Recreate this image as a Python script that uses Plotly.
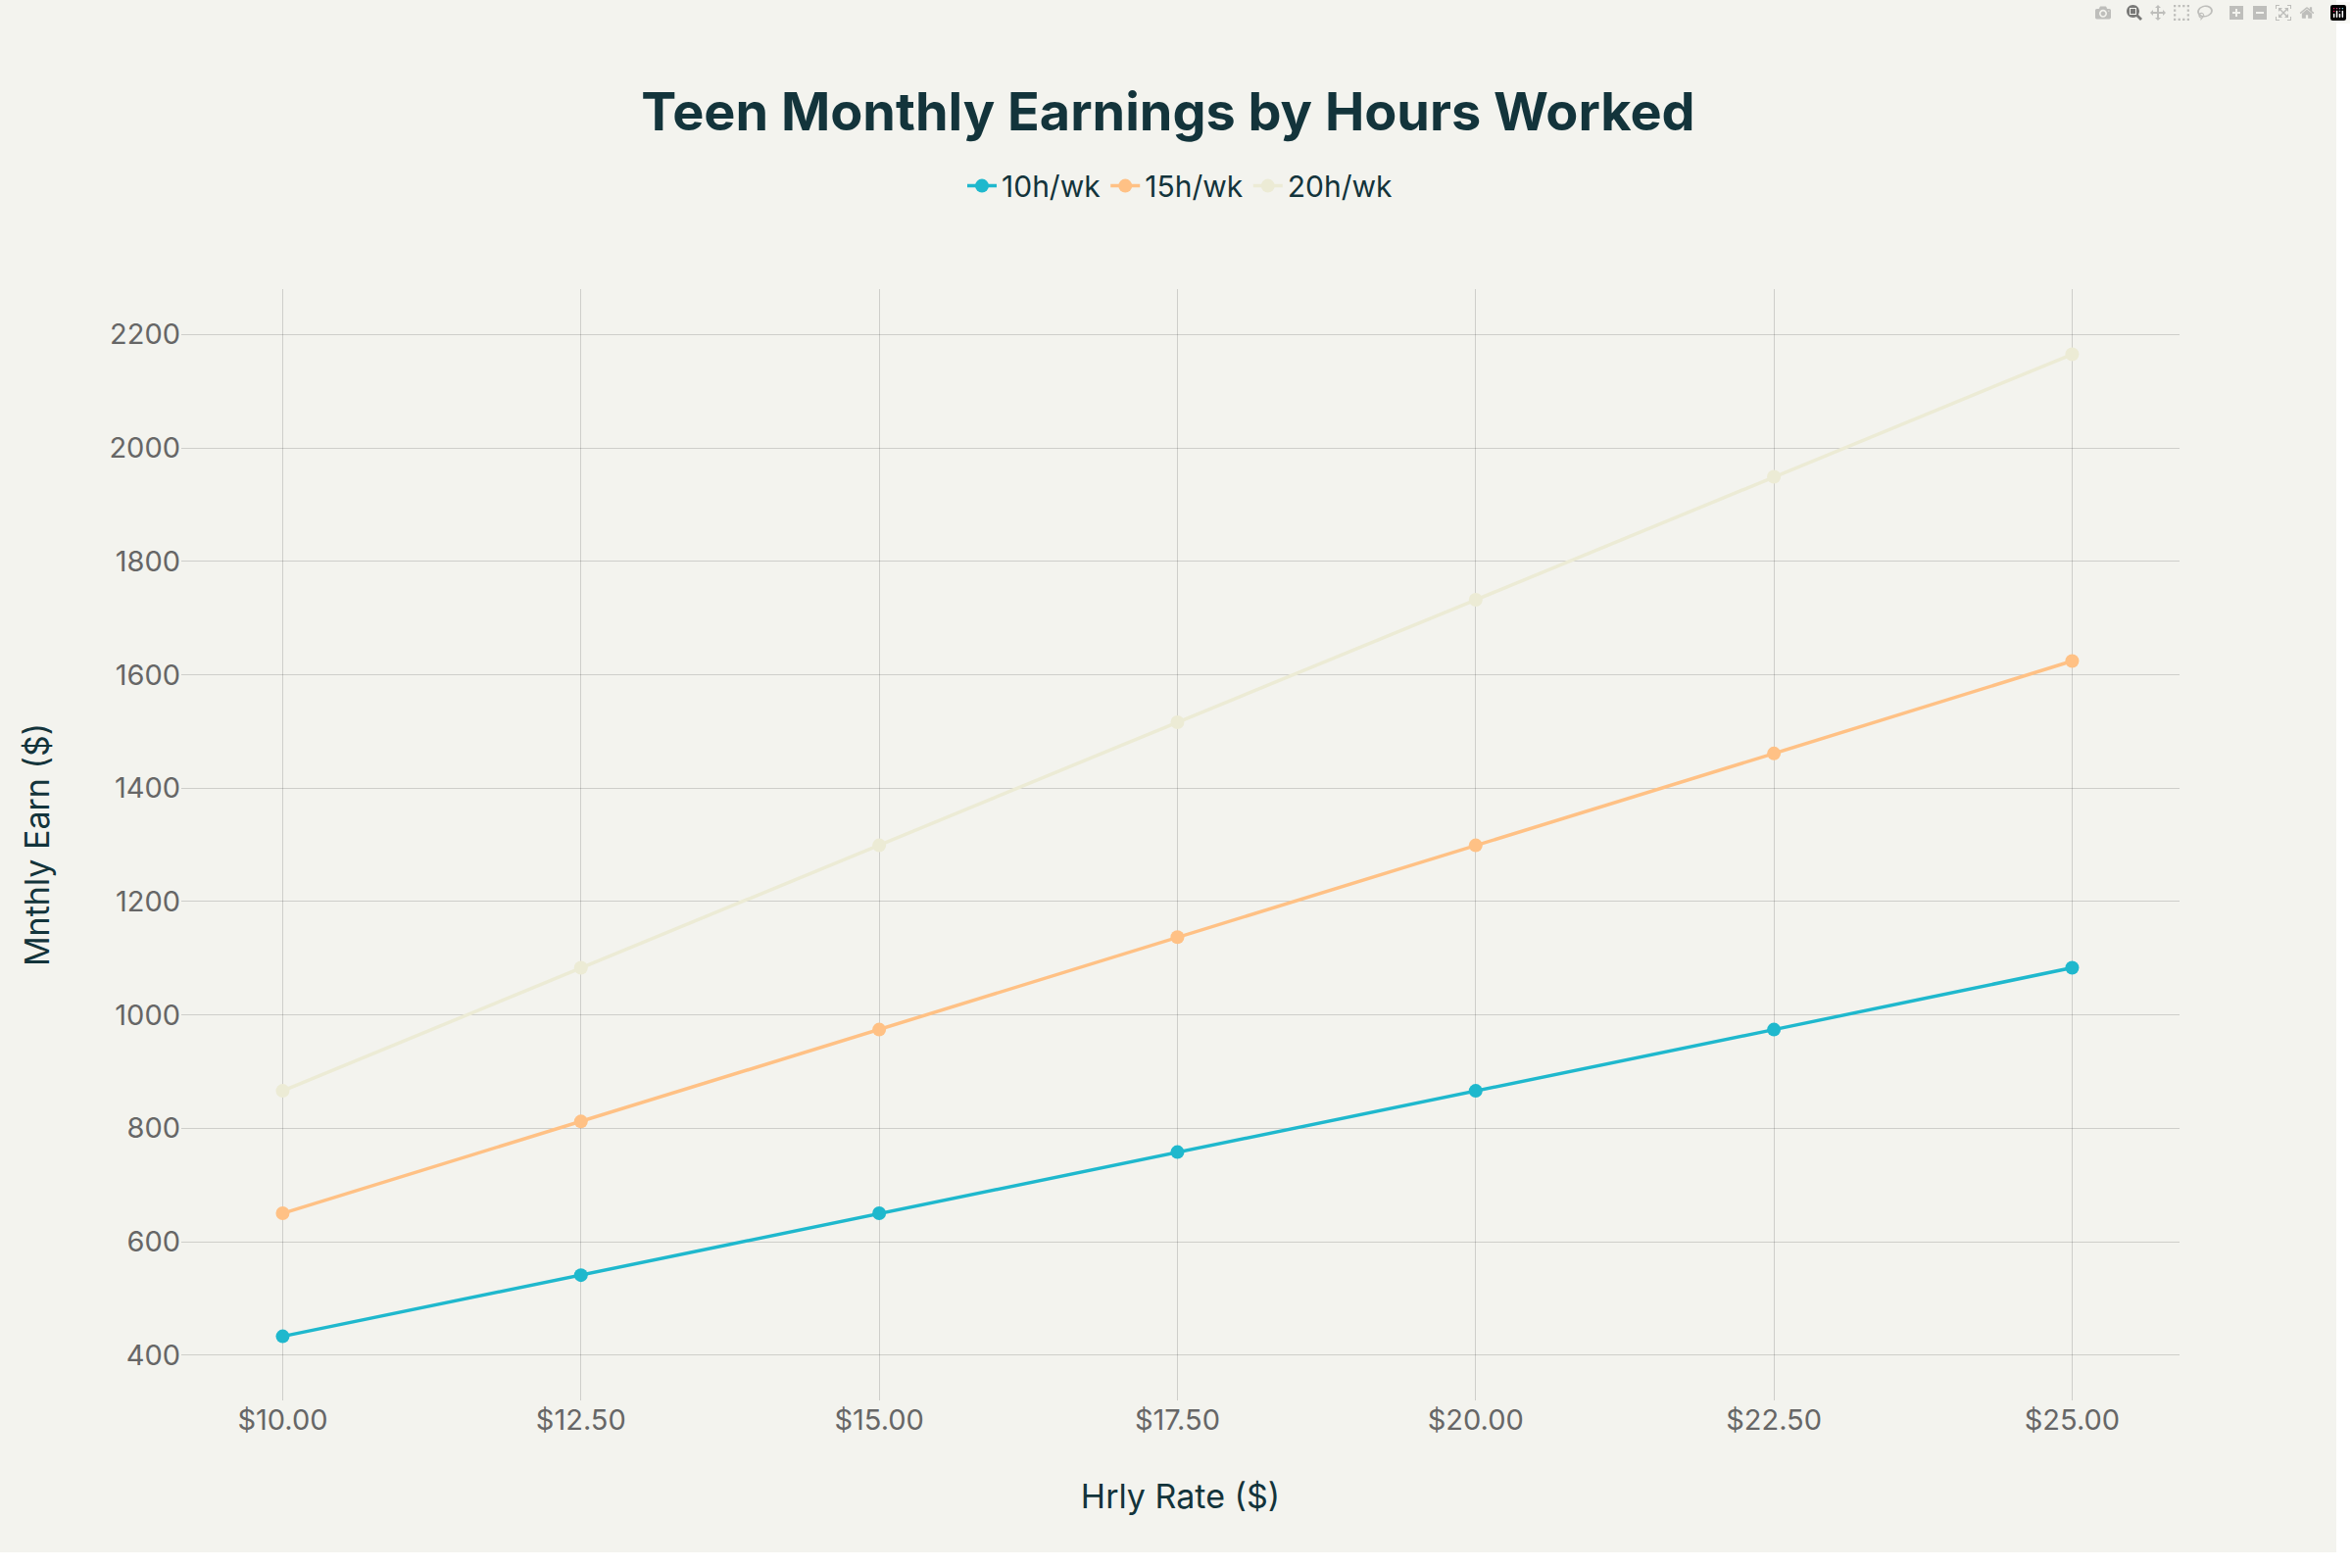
import plotly.graph_objects as go

rates = [10.0, 12.5, 15.0, 17.5, 20.0, 22.5, 25.0]
earn_10h = [433, 541, 650, 758, 866, 974, 1083]
earn_15h = [650, 812, 974, 1137, 1299, 1461, 1624]
earn_20h = [866, 1083, 1299, 1516, 1732, 1949, 2165]

series = [("10h/wk", earn_10h, "#1FB8CD"),
          ("15h/wk", earn_15h, "#FFC185"),
          ("20h/wk", earn_20h, "#ECEBD5")]

fig = go.Figure()
for name, vals, col in series:
    fig.add_trace(go.Scatter(x=rates, y=vals, name=name, mode="lines+markers",
                             line=dict(color=col, width=3.5), marker=dict(size=14, color=col)))

font_col = "#13343B"
fig.update_layout(
    title=dict(text="<b>Teen Monthly Earnings by Hours Worked</b>", x=0.5, y=0.94,
               font=dict(size=54, color=font_col)),
    font=dict(family="Inter, Roboto, sans-serif", color=font_col),
    paper_bgcolor="#F3F3EE", plot_bgcolor="#F3F3EE",
    legend=dict(orientation="h", x=0.5, xanchor="center", y=1.07, yanchor="bottom",
                font=dict(size=30)),
    margin=dict(l=185, r=160, t=295, b=155),
)
fig.update_xaxes(title=dict(text="Hrly Rate ($)", font=dict(size=34), standoff=50),
                 tickprefix="$", tickformat=".2f", dtick=2.5, range=[9.15, 25.9],
                 tickfont=dict(size=29, color="#666"), showgrid=True,
                 gridcolor="rgba(0,0,0,0.15)", zeroline=False, showline=False)
fig.update_yaxes(title=dict(text="Mnthly Earn ($)", font=dict(size=34), standoff=50),
                 dtick=200, range=[320, 2280], tickfont=dict(size=29, color="#666"),
                 showgrid=True, gridcolor="rgba(0,0,0,0.15)", zeroline=False, showline=False)

fig.write_html("out.html", post_script="document.body.style.margin='0';")
